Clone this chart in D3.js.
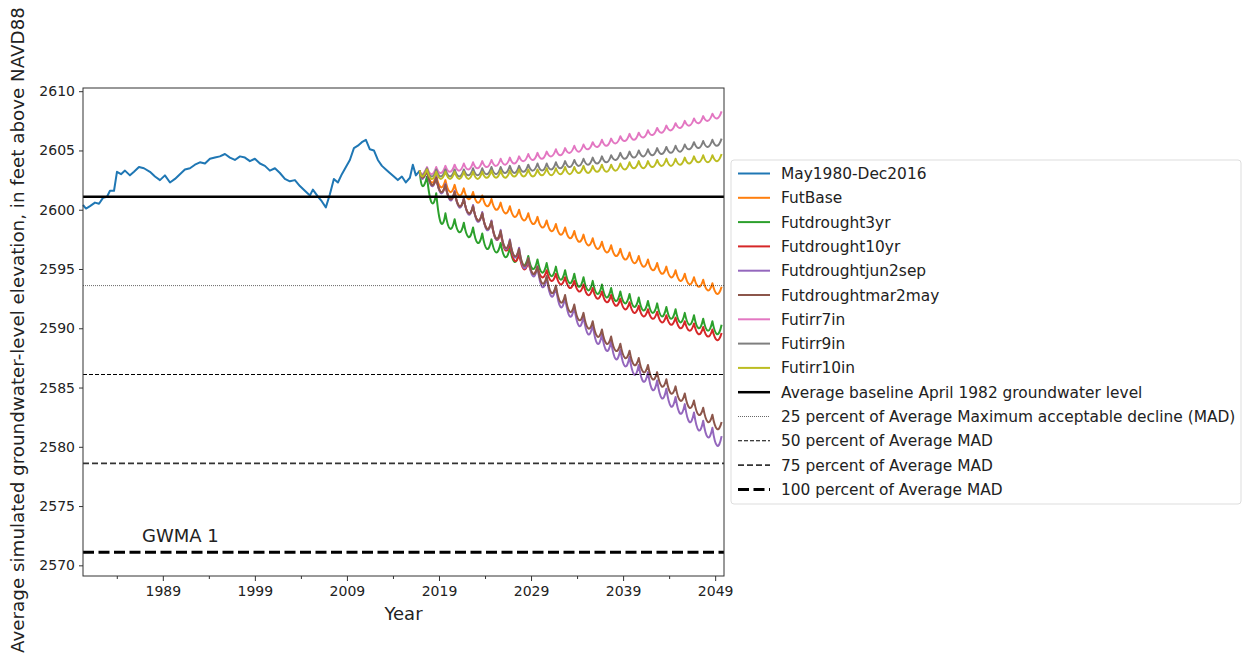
<!DOCTYPE html>
<html>
<head>
<meta charset="utf-8">
<script src="https://cdn.jsdelivr.net/npm/d3@7"></script>
<style>
  body { margin: 0; background: #fff; }
  text { font-family: "DejaVu Sans", sans-serif; fill: #222; }
</style>
</head>
<body>
<script>
/* groundwater level chart, GWMA 1 */

// historical record, [decimal year, feet]
const histYears = [1980.33,1980.66,1981.09,1981.63,1982.07,1982.5,1982.94,1983.26,1983.7,1984.02,1984.46,1984.89,
  1985.43,1985.87,1986.41,1986.95,1987.6,1988.15,1988.69,1989.23,1989.78,1990.32,1990.86,1991.4,1991.95,1992.49,
  1993.03,1993.58,1994.12,1994.66,1995.2,1995.75,1996.29,1996.83,1997.38,1997.92,1998.46,1999.0,1999.55,2000.09,
  2000.63,2001.18,2001.72,2002.26,2002.8,2003.35,2003.89,2004.43,2004.98,2005.3,2005.85,2006.28,2006.71,2007.15,
  2007.58,2008.02,2008.45,2008.89,2009.32,2009.76,2010.19,2010.62,2011.06,2011.49,2011.93,2012.36,2012.8,2013.23,
  2013.66,2014.1,2014.53,2014.97,2015.4,2015.84,2016.16,2016.49,2016.92];
const histLevels = [2600.4,2600.1,2600.3,2600.6,2600.5,2601.0,2601.1,2601.6,2601.6,2603.2,2603.0,2603.3,
  2602.9,2603.2,2603.6,2603.5,2603.2,2602.8,2602.5,2602.9,2602.3,2602.6,2603.0,2603.4,2603.5,2603.8,
  2604.0,2603.9,2604.3,2604.4,2604.5,2604.7,2604.4,2604.2,2604.5,2604.4,2604.1,2604.3,2603.9,2603.7,
  2603.3,2603.5,2603.1,2602.6,2602.4,2602.5,2602.0,2601.6,2601.2,2601.7,2601.1,2600.7,2600.2,2601.3,
  2602.6,2602.3,2603.0,2603.6,2604.2,2605.2,2605.4,2605.7,2605.9,2605.1,2605.0,2604.2,2603.7,2603.4,
  2603.1,2602.8,2602.5,2602.8,2602.3,2602.7,2603.8,2602.9,2603.3];

// future scenarios: one yearly low and high per year, 2017..2049
const futureStart = 2017;
const baseHigh = [2603.3,2602.9,2602.5,2602.1,2601.8,2601.5,2601.2,2600.9,2600.6,2600.3,2600.0,2599.7,2599.4,2599.1,2598.8,2598.5,2598.2,2597.9,2597.6,2597.3,2597.0,2596.7,2596.4,2596.1,2595.8,2595.5,2595.2,2594.9,2594.6,2594.3,2594.1,2593.8,2593.5];
const baseLow  = [2602.7,2602.3,2601.9,2601.5,2601.2,2600.9,2600.6,2600.3,2600.0,2599.7,2599.4,2599.1,2598.8,2598.5,2598.2,2597.9,2597.6,2597.3,2597.0,2596.7,2596.4,2596.1,2595.8,2595.5,2595.2,2594.9,2594.6,2594.3,2594.0,2593.7,2593.5,2593.2,2592.9];
const dr3High = [2602.8,2601.4,2599.7,2599.2,2598.9,2598.5,2598.0,2597.5,2597.2,2596.8,2596.4,2596.1,2595.8,2595.5,2595.2,2594.9,2594.6,2594.3,2594.0,2593.7,2593.4,2593.1,2592.9,2592.6,2592.3,2592.1,2591.8,2591.6,2591.3,2591.1,2590.8,2590.6,2590.3];
const dr3Low  = [2602.0,2600.6,2598.9,2598.4,2598.1,2597.7,2597.2,2596.7,2596.4,2596.0,2595.6,2595.3,2595.0,2594.7,2594.4,2594.1,2593.8,2593.5,2593.2,2592.9,2592.6,2592.3,2592.1,2591.8,2591.5,2591.3,2591.0,2590.8,2590.5,2590.3,2590.0,2589.8,2589.5];
const dr10High = [2603.3,2602.7,2602.1,2601.5,2600.9,2600.3,2599.7,2599.0,2598.1,2597.2,2596.3,2595.6,2595.2,2594.9,2594.6,2594.3,2594.0,2593.7,2593.4,2593.1,2592.8,2592.5,2592.2,2591.9,2591.6,2591.4,2591.1,2590.9,2590.6,2590.4,2590.1,2589.9,2589.6];
const dr10Low  = [2602.7,2602.1,2601.5,2600.9,2600.3,2599.7,2599.1,2598.4,2597.5,2596.6,2595.7,2595.0,2594.6,2594.3,2594.0,2593.7,2593.4,2593.1,2592.8,2592.5,2592.2,2591.9,2591.6,2591.3,2591.0,2590.8,2590.5,2590.3,2590.0,2589.8,2589.5,2589.3,2589.0];
const junSepHigh = [2603.4,2602.8,2602.2,2601.6,2601.0,2600.4,2599.8,2599.1,2598.3,2597.5,2596.8,2595.9,2595.2,2594.3,2593.5,2592.6,2591.8,2591.0,2590.3,2589.5,2588.9,2588.2,2587.6,2586.9,2586.3,2585.6,2584.9,2584.2,2583.6,2582.9,2582.2,2581.6,2580.9];
const junSepLow  = [2602.6,2602.0,2601.4,2600.8,2600.2,2599.6,2599.0,2598.3,2597.5,2596.7,2596.0,2595.1,2594.4,2593.5,2592.7,2591.8,2591.0,2590.2,2589.5,2588.7,2588.1,2587.4,2586.8,2586.1,2585.5,2584.8,2584.1,2583.4,2582.8,2582.1,2581.4,2580.8,2580.1];
const marMayHigh = [2603.3,2602.7,2602.1,2601.5,2600.9,2600.3,2599.7,2599.0,2598.2,2597.4,2596.7,2595.9,2595.2,2594.4,2593.6,2592.8,2592.0,2591.3,2590.6,2589.9,2589.3,2588.7,2588.1,2587.5,2586.9,2586.3,2585.7,2585.1,2584.5,2583.9,2583.3,2582.7,2582.1];
const marMayLow  = [2602.7,2602.1,2601.5,2600.9,2600.3,2599.7,2599.1,2598.4,2597.6,2596.8,2596.1,2595.3,2594.6,2593.8,2593.0,2592.2,2591.4,2590.7,2590.0,2589.3,2588.7,2588.1,2587.5,2586.9,2586.3,2585.7,2585.1,2584.5,2583.9,2583.3,2582.7,2582.1,2581.5];
const irr7High = [2603.6,2603.6,2603.7,2603.8,2603.9,2604.0,2604.1,2604.2,2604.3,2604.4,2604.5,2604.7,2604.8,2604.9,2605.1,2605.2,2605.4,2605.5,2605.7,2605.9,2606.0,2606.2,2606.4,2606.5,2606.7,2606.9,2607.1,2607.3,2607.5,2607.7,2607.9,2608.1,2608.3];
const irr7Low  = [2603.0,2603.0,2603.1,2603.2,2603.3,2603.4,2603.5,2603.6,2603.7,2603.8,2603.9,2604.1,2604.2,2604.3,2604.5,2604.6,2604.8,2604.9,2605.1,2605.3,2605.4,2605.6,2605.8,2605.9,2606.1,2606.3,2606.5,2606.7,2606.9,2607.1,2607.3,2607.5,2607.7];
const irr9High = [2603.5,2603.4,2603.4,2603.4,2603.4,2603.5,2603.5,2603.6,2603.6,2603.7,2603.7,2603.8,2603.9,2603.9,2604.0,2604.1,2604.2,2604.3,2604.4,2604.5,2604.6,2604.8,2604.9,2605.0,2605.1,2605.2,2605.3,2605.4,2605.5,2605.7,2605.8,2605.9,2606.0];
const irr9Low  = [2602.9,2602.8,2602.8,2602.8,2602.8,2602.9,2602.9,2603.0,2603.0,2603.1,2603.1,2603.2,2603.3,2603.3,2603.4,2603.5,2603.6,2603.7,2603.8,2603.9,2604.0,2604.2,2604.3,2604.4,2604.5,2604.6,2604.7,2604.8,2604.9,2605.1,2605.2,2605.3,2605.4];
const irr10High = [2603.4,2603.2,2603.2,2603.2,2603.2,2603.2,2603.2,2603.3,2603.3,2603.3,2603.4,2603.4,2603.4,2603.5,2603.5,2603.6,2603.6,2603.7,2603.7,2603.8,2603.8,2603.9,2604.0,2604.1,2604.1,2604.2,2604.3,2604.3,2604.4,2604.5,2604.6,2604.6,2604.7];
const irr10Low  = [2602.8,2602.6,2602.6,2602.6,2602.6,2602.6,2602.6,2602.7,2602.7,2602.7,2602.8,2602.8,2602.8,2602.9,2602.9,2603.0,2603.0,2603.1,2603.1,2603.2,2603.2,2603.3,2603.4,2603.5,2603.5,2603.6,2603.7,2603.7,2603.8,2603.9,2604.0,2604.0,2604.1];

const seriesNames = ["May1980-Dec2016","FutBase","Futdrought3yr","Futdrought10yr","Futdroughtjun2sep","Futdroughtmar2may","Futirr7in","Futirr9in","Futirr10in"];
const seriesColors = ["#1f77b4","#ff7f0e","#2ca02c","#d62728","#9467bd","#8c564b","#e377c2","#7f7f7f","#bcbd22"];
const futureHighs = [baseHigh, dr3High, dr10High, junSepHigh, marMayHigh, irr7High, irr9High, irr10High];
const futureLows  = [baseLow, dr3Low, dr10Low, junSepLow, marMayLow, irr7Low, irr9Low, irr10Low];

// reference levels (baseline and percent of max acceptable decline)
const refLevels = [2601.1, 2593.6, 2586.1, 2578.6, 2571.1];
const refNames = ["Average baseline April 1982 groundwater level",
  "25 percent of Average Maximum acceptable decline (MAD)",
  "50 percent of Average MAD","75 percent of Average MAD","100 percent of Average MAD"];

const yTicks = [2570,2575,2580,2585,2590,2595,2600,2605,2610];
const xTicks = [1989,1999,2009,2019,2029,2039,2049];
const xMinor = [1984,1994,2004,2014,2024,2034,2044];

var W = 1247, H = 660;
var mLeft = 83, mRight = 724, mTop = 88, mBottom = 576;

var svg = d3.select("body").append("svg")
    .attr("width", W)
    .attr("height", H);

var x = d3.scaleLinear().domain([1980.33, 2049.96]).range([mLeft, mRight]);
var y = d3.scaleLinear().domain([2569.1, 2610.27]).range([mBottom, mTop]);

var line = d3.line()
    .x(d => x(d[0]))
    .y(d => y(d[1]));

var plot = svg.append("g");

// historical
var hist = histYears.map((t, i) => [t, histLevels[i]]);
plot.append("path")
    .attr("d", line(hist))
    .attr("fill", "none")
    .attr("stroke", seriesColors[0])
    .attr("stroke-width", 2)
    .attr("stroke-linejoin", "round");

// future: each year is a U from one high to the next, sharp at the highs
function seasonPath(lo, hi, startPt){
    var p = d3.path();
    var prev = [x(startPt[0]), y(startPt[1])];
    p.moveTo(prev[0], prev[1]);
    hi.forEach(function(h, i){
        var tx = x(futureStart + i + 0.2), ty = y(lo[i]);
        var nx = x(futureStart + i + 0.7), ny = y(h);
        // quadratic through the low point at its middle
        var cy = 2 * ty - (prev[1] + ny) / 2;
        var cx = 2 * tx - (prev[0] + nx) / 2;
        p.quadraticCurveTo(cx, cy, nx, ny);
        prev = [nx, ny];
    });
    return p.toString();
}

futureHighs.forEach(function(hi, k){
    plot.append("path")
        .attr("d", seasonPath(futureLows[k], hi, hist[hist.length - 1]))
        .attr("fill", "none")
        .attr("stroke", seriesColors[k + 1])
        .attr("stroke-width", 2)
        .attr("stroke-linejoin", "round");
});

// reference lines
const refStyles = [
    {w: 2.5, dash: null},
    {w: 0.6, dash: "1,1"},
    {w: 1.1, dash: "4,2"},
    {w: 1.6, dash: "6,3"},
    {w: 3, dash: "11,4.5"}
];
refLevels.forEach(function(v, i){
    plot.append("line")
        .attr("x1", mLeft).attr("x2", mRight)
        .attr("y1", y(v)).attr("y2", y(v))
        .attr("stroke", i == 3 ? "#333" : "#000")
        .attr("stroke-width", refStyles[i].w)
        .attr("stroke-dasharray", refStyles[i].dash);
});

svg.append("text")
    .attr("x", 142).attr("y", 542)
    .style("font-size", "18px")
    .text("GWMA 1");

// axes
var yAxis = d3.axisLeft(y).tickValues(yTicks).tickSize(4).tickPadding(4).tickFormat(d3.format("d"));
var gy = svg.append("g").attr("transform", `translate(${mLeft},0)`).call(yAxis);
var xAxis = d3.axisBottom(x).tickValues(xTicks).tickSize(5).tickPadding(5).tickFormat(d3.format("d"));
var gx = svg.append("g").attr("transform", `translate(0,${mBottom})`).call(xAxis);
var xAxisMinor = d3.axisBottom(x).tickValues(xMinor).tickSize(3).tickFormat("");
var gm = svg.append("g").attr("transform", `translate(0,${mBottom})`).call(xAxisMinor);
[gy, gx, gm].forEach(function(g){
    g.select(".domain").remove();
    g.selectAll("line").attr("stroke", "#333");
    g.selectAll("text").style("font-size", "14px").style("font-family", "DejaVu Sans").attr("fill", "#222");
});

svg.append("rect")
    .attr("x", mLeft).attr("y", mTop)
    .attr("width", mRight - mLeft).attr("height", mBottom - mTop)
    .attr("fill", "none")
    .attr("stroke", "#333")
    .attr("stroke-width", 1);

svg.append("text")
    .attr("x", (mLeft + mRight) / 2).attr("y", 620)
    .attr("text-anchor", "middle")
    .style("font-size", "18px")
    .text("Year");

svg.append("text")
    .attr("transform", "translate(24,330) rotate(-90)")
    .attr("text-anchor", "middle")
    .style("font-size", "18.3px")
    .text("Average simulated groundwater-level elevation, in feet above NAVD88");

// legend
var lg = svg.append("g");
lg.append("rect")
    .attr("x", 731).attr("y", 160)
    .attr("width", 510).attr("height", 344)
    .attr("rx", 3)
    .attr("fill", "#fff")
    .attr("stroke", "#ddd");

var legendItems = seriesNames.map((n, i) => ({name: n, color: seriesColors[i], w: 2, dash: null}))
    .concat(refNames.map((n, i) => ({name: n, color: i == 3 ? "#333" : "#000", w: refStyles[i].w, dash: refStyles[i].dash})));

legendItems.forEach(function(d, i){
    var yy = 173.5 + i * 24.3;
    lg.append("line")
        .attr("x1", 738).attr("x2", 770)
        .attr("y1", yy).attr("y2", yy)
        .attr("stroke", d.color)
        .attr("stroke-width", d.w)
        .attr("stroke-dasharray", d.dash);
    lg.append("text")
        .attr("x", 781).attr("y", yy + 5.5)
        .style("font-size", "15.4px")
        .text(d.name);
});
</script>
</body>
</html>
